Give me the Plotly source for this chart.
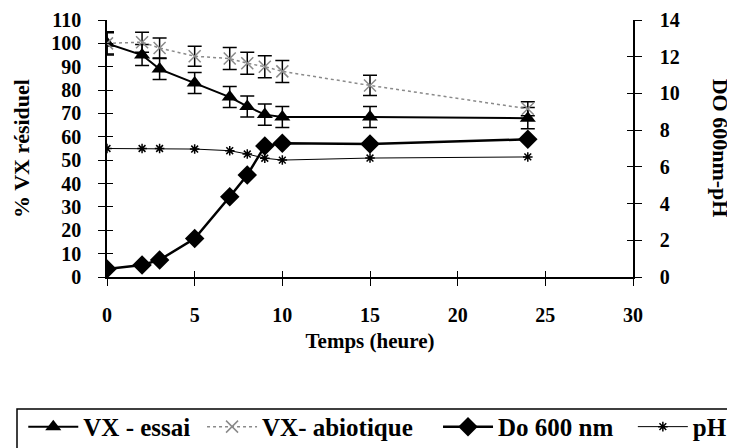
import plotly.graph_objects as go

# temps (heure)
temps = [0, 2, 3, 5, 7, 8, 9, 10, 15, 24]

# % VX residuel
vx_essai = [100, 95, 89, 83, 77, 73, 69.5, 68.5, 68.5, 68]
vx_essai_err = [4.5, 4.5, 4.5, 4.5, 4.5, 4.5, 4.5, 4.5, 4.5, 4.5]
vx_abiotique = [100, 100.5, 98, 94.5, 93.5, 91.5, 90, 88, 82, 72]
vx_abiotique_err = [5, 4.3, 4.3, 4.3, 4.7, 4.7, 4.7, 4.7, 4.3, 3]

# axe secondaire
do_600 = [0.44, 0.65, 0.93, 2.1, 4.37, 5.56, 7.13, 7.28, 7.24, 7.5]
ph = [7.0, 7.0, 7.0, 6.97, 6.88, 6.7, 6.47, 6.37, 6.48, 6.54]

FONT = "Liberation Serif"

fig = go.Figure()

fig.add_trace(go.Scatter(
    x=temps, y=vx_essai, name="VX - essai", mode="lines+markers", legend="legend",
    line=dict(color="black", width=2),
    marker=dict(symbol="triangle-up", size=14, color="black"),
    error_y=dict(type="data", array=vx_essai_err, color="black", thickness=1.5, width=7),
))
fig.add_trace(go.Scatter(
    x=temps, y=vx_abiotique, name="VX- abiotique", mode="lines+markers", legend="legend2",
    line=dict(color="#8a8a8a", width=1.5, dash="dot"),
    marker=dict(symbol="x-thin-open", size=12, line=dict(color="#8a8a8a", width=1.5)),
    error_y=dict(type="data", array=vx_abiotique_err, color="black", thickness=1.5, width=7),
))
fig.add_trace(go.Scatter(
    x=temps, y=do_600, name="Do 600 nm", mode="lines+markers", yaxis="y2", legend="legend3",
    line=dict(color="black", width=2.5),
    marker=dict(symbol="diamond", size=15, color="black"),
))
fig.add_trace(go.Scatter(
    x=temps, y=ph, name="pH", mode="lines+markers", yaxis="y2", legend="legend4",
    line=dict(color="black", width=1),
    marker=dict(symbol="asterisk-open", size=8, line=dict(color="#333333", width=1.5)),
))

axis_font = dict(family=FONT, size=20, color="black", weight="bold")
common = dict(showgrid=False, zeroline=False, showline=True, linecolor="black", linewidth=1.5,
              ticks="outside", ticklen=7, tickwidth=1.2, tickcolor="black", tickfont=axis_font,
              automargin=False)
inner = dict(showgrid=False, zeroline=False, showline=False, ticks="inside", ticklen=6,
             tickwidth=1.2, tickcolor="black", showticklabels=False, automargin=False)

# one legend per entry so the single row can be spread like the original
leg_font = dict(family=FONT, size=25, color="black", weight="bold")
def leg(x):
    return dict(orientation="h", xref="container", yref="container", x=x, xanchor="left",
                y=0.048, yanchor="middle", borderwidth=0, bgcolor="rgba(0,0,0,0)",
                font=leg_font, itemwidth=50)

# the page body adds 8px around the figure, so the figure is 8px smaller each way
fig.update_layout(
    width=727, height=440,
    paper_bgcolor="white", plot_bgcolor="white",
    margin=dict(l=99, r=102, t=12, b=171),
    font=dict(family=FONT, size=18, color="black"),
    xaxis=dict(range=[0, 30], dtick=5, ticklabelstandoff=12,
               title=dict(text="Temps (heure)", standoff=9,
                          font=dict(family=FONT, size=21, weight="bold")), **common),
    yaxis=dict(range=[0, 110], dtick=10, ticklabelstandoff=13,
               title=dict(text="% VX résiduel", standoff=16,
                          font=dict(family=FONT, size=22, weight="bold")), **common),
    yaxis2=dict(range=[0, 14], dtick=2, overlaying="y", side="right", anchor="x",
                ticklabelstandoff=14, **common),
    # duplicate axes with inside ticks to get crossing ticks
    xaxis2=dict(range=[0, 30], dtick=5, overlaying="x", anchor="y", **inner),
    yaxis3=dict(range=[0, 110], dtick=10, overlaying="y", side="left", anchor="x", **inner),
    yaxis4=dict(range=[0, 14], dtick=2, overlaying="y", side="right", anchor="x", **inner),
    showlegend=True,
    legend=leg(0.021),
    legend2=leg(0.2669),
    legend3=leg(0.5915),
    legend4=leg(0.8595),
    shapes=[dict(type="rect", xref="paper", yref="paper", x0=-0.1711, x1=1.25, y0=-0.5136, y1=-0.75,
                 line=dict(color="black", width=1.5), fillcolor="rgba(0,0,0,0)", layer="below")],
    annotations=[dict(text="DO 600nm-pH", textangle=90, xref="paper", yref="paper",
                      x=1.167, y=0.5, xanchor="center", yanchor="middle", showarrow=False,
                      font=dict(family=FONT, size=22, color="black", weight="bold"))],
)

# invisible traces so the duplicate tick axes are drawn
fig.add_trace(go.Scatter(x=[0], y=[0], xaxis="x2", yaxis="y3", mode="markers",
                         marker=dict(opacity=0), showlegend=False, hoverinfo="skip"))
fig.add_trace(go.Scatter(x=[0], y=[0], xaxis="x2", yaxis="y4", mode="markers",
                         marker=dict(opacity=0), showlegend=False, hoverinfo="skip"))

fig.write_html("out.html")
